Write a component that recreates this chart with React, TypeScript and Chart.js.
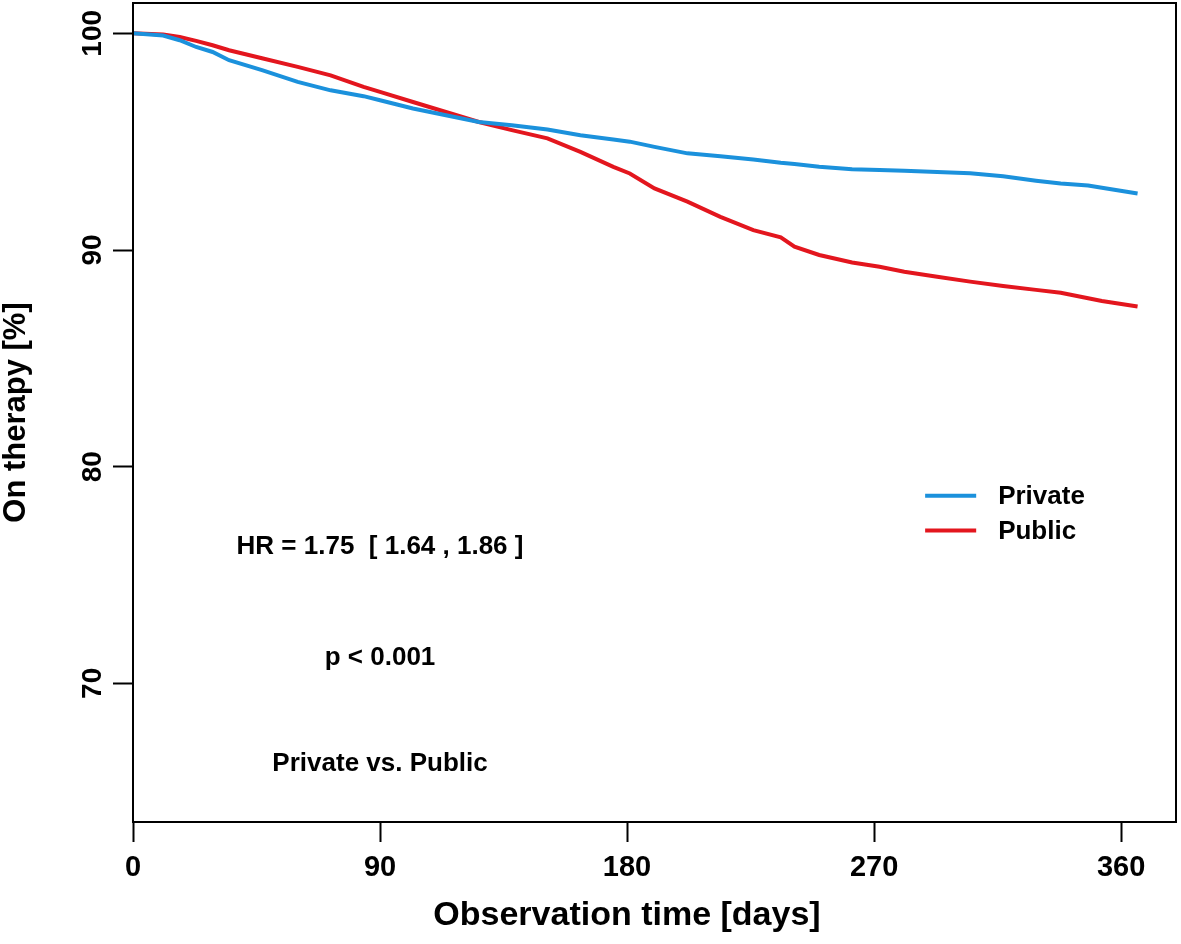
import React, { useEffect, useRef } from 'react';
import { Chart, registerables } from 'chart.js';

Chart.register(...registerables);

// ---- data ----
const days = [0, 11, 17, 23, 29, 35, 47, 60, 72, 84, 90, 102, 114, 126, 138, 151, 163, 175, 181, 190, 202, 214, 226, 236, 241, 250, 262, 272, 281, 293, 305, 317, 329, 338, 348, 353, 366];
const privateOnTherapy = [100, 99.9, 99.68, 99.37, 99.14, 98.76, 98.3, 97.76, 97.37, 97.1, 96.91, 96.53, 96.22, 95.91, 95.76, 95.56, 95.3, 95.1, 95.0, 94.76, 94.46, 94.33, 94.18, 94.03, 93.97, 93.84, 93.73, 93.69, 93.66, 93.6, 93.54, 93.4, 93.2, 93.07, 92.98, 92.87, 92.61];
const publicOnTherapy = [100, 99.95, 99.83, 99.65, 99.45, 99.22, 98.85, 98.45, 98.06, 97.53, 97.3, 96.83, 96.37, 95.91, 95.53, 95.15, 94.53, 93.84, 93.53, 92.84, 92.23, 91.53, 90.92, 90.58, 90.15, 89.77, 89.42, 89.23, 89.0, 88.77, 88.54, 88.34, 88.16, 88.03, 87.77, 87.65, 87.39];
const seriesNames = ['Private', 'Public'];
const seriesColors = ['#1B91DC', '#E3161E'];
const xTicks = [0, 90, 180, 270, 360];
const yTicks = [70, 80, 90, 100];
const xTitle = 'Observation time [days]';
const yTitle = 'On therapy [%]';
const annotationTexts = ['HR = 1.75  [ 1.64 , 1.86 ]', 'p < 0.001', 'Private vs. Public'];
const annotationY = [76.3, 71.2, 66.3];
const annotationX = 90;

const FONT = '"Liberation Sans", Arial, Helvetica, sans-serif';

const decorPlugin = {
  id: 'decor',
  afterDraw(chart: any) {
    const { ctx, chartArea, scales } = chart;
    const xs = scales.x;
    const ys = scales.y;
    ctx.save();
    // plot box
    ctx.strokeStyle = '#000';
    ctx.lineWidth = 2;
    ctx.strokeRect(chartArea.left, chartArea.top, chartArea.right - chartArea.left, chartArea.bottom - chartArea.top);

    ctx.fillStyle = '#000';
    // y tick labels, rotated
    ctx.font = `bold 28px ${FONT}`;
    ctx.textAlign = 'center';
    ctx.textBaseline = 'middle';
    yTicks.forEach((v) => {
      const py = ys.getPixelForValue(v);
      ctx.save();
      ctx.translate(93, py);
      ctx.rotate(-Math.PI / 2);
      ctx.fillText(String(v), 0, 0);
      ctx.restore();
    });

    // axis titles
    ctx.font = `bold 34px ${FONT}`;
    ctx.fillText(xTitle, 627, 916);
    ctx.save();
    ctx.translate(16, (chartArea.top + chartArea.bottom) / 2);
    ctx.rotate(-Math.PI / 2);
    ctx.font = `bold 31px ${FONT}`;
    ctx.fillText(yTitle, 0, 0);
    ctx.restore();

    // annotations
    ctx.font = `bold 26px ${FONT}`;
    annotationTexts.forEach((t, i) => {
      ctx.fillText(t, xs.getPixelForValue(annotationX), ys.getPixelForValue(annotationY[i]));
    });

    // legend
    const legY = [78.66, 77.05];
    ctx.textAlign = 'left';
    seriesNames.forEach((name, i) => {
      const py = ys.getPixelForValue(legY[i]);
      ctx.strokeStyle = seriesColors[i];
      ctx.lineWidth = 4;
      ctx.beginPath();
      ctx.moveTo(xs.getPixelForValue(288.6), py);
      ctx.lineTo(xs.getPixelForValue(307.2), py);
      ctx.stroke();
      ctx.fillStyle = '#000';
      ctx.fillText(name, xs.getPixelForValue(315.2), py + 1);
    });
    ctx.restore();
  },
};

export default function App() {
  const canvasRef = useRef<HTMLCanvasElement | null>(null);

  useEffect(() => {
    if (!canvasRef.current) return;
    const series = [privateOnTherapy, publicOnTherapy];
    const chart = new Chart(canvasRef.current, {
      type: 'line',
      data: {
        datasets: series.map((vals, i) => ({
          label: seriesNames[i],
          data: days.map((d, j) => ({ x: d, y: vals[j] })),
          borderColor: seriesColors[i],
          backgroundColor: seriesColors[i],
          borderWidth: 4,
          pointRadius: 0,
          tension: 0,
          fill: false,
        })),
      },
      options: {
        responsive: false,
        animation: false,
        events: [],
        layout: { padding: { top: 3, right: 5, left: 0, bottom: 0 } },
        plugins: {
          legend: { display: false },
          tooltip: { enabled: false },
        },
        scales: {
          x: {
            type: 'linear',
            min: 0,
            max: 380,
            afterBuildTicks: (s: any) => {
              s.ticks = xTicks.map((v) => ({ value: v }));
            },
            afterFit: (s: any) => {
              s.height = 122;
            },
            ticks: {
              color: '#000',
              font: { family: FONT, size: 29, weight: 'bold' },
              padding: 9,
              maxRotation: 0,
              minRotation: 0,
              autoSkip: false,
              callback: (v: any) => String(v),
            },
            grid: {
              display: true,
              drawOnChartArea: false,
              drawTicks: true,
              tickLength: 20,
              tickWidth: 2,
              tickColor: '#000',
            },
            border: { display: false },
          },
          y: {
            type: 'linear',
            min: 63.6,
            max: 101.4,
            afterBuildTicks: (s: any) => {
              s.ticks = yTicks.map((v) => ({ value: v }));
            },
            afterFit: (s: any) => {
              s.width = 133;
            },
            ticks: { display: false },
            grid: {
              display: true,
              drawOnChartArea: false,
              drawTicks: true,
              tickLength: 20,
              tickWidth: 2,
              tickColor: '#000',
            },
            border: { display: false },
          },
        },
      } as any,
      plugins: [decorPlugin],
    });
    return () => chart.destroy();
  }, []);

  return (
    <div style={{ position: 'absolute', left: 0, top: 0, width: 1181, height: 944, background: '#fff' }}>
      <canvas ref={canvasRef} width={1181} height={944} style={{ display: 'block' }} />
    </div>
  );
}
